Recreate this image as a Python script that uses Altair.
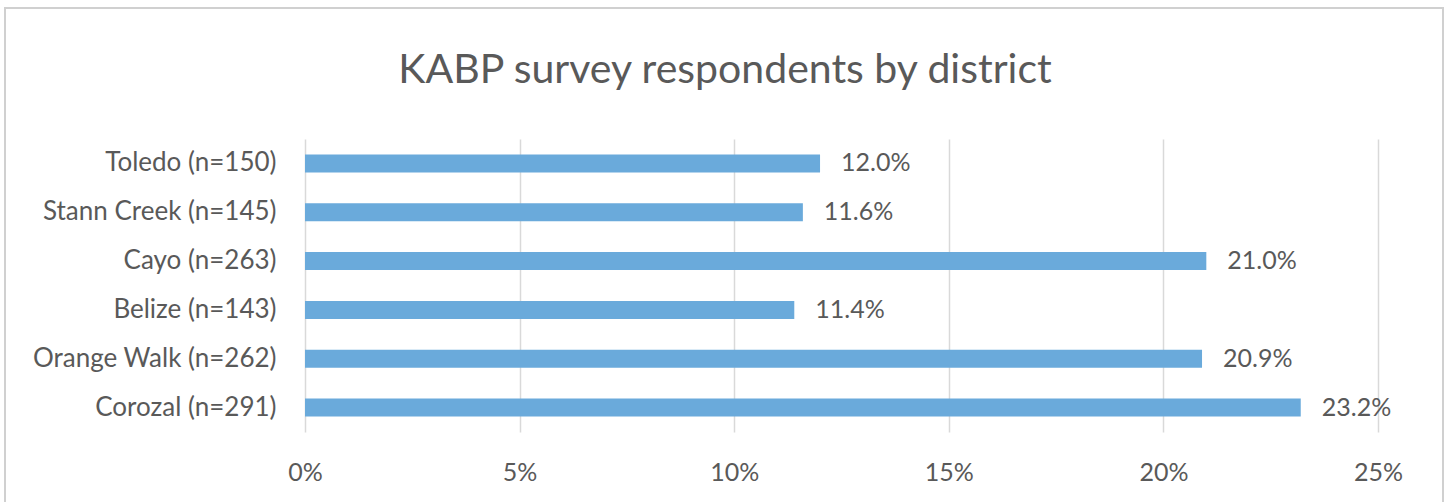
import altair as alt
import pandas as pd

districts = ["Toledo (n=150)", "Stann Creek (n=145)", "Cayo (n=263)",
             "Belize (n=143)", "Orange Walk (n=262)", "Corozal (n=291)"]
shares = [0.120, 0.116, 0.210, 0.114, 0.209, 0.232]
x_ticks = [0, 0.05, 0.10, 0.15, 0.20, 0.25]
title_text = ["KABP survey respondents by district"]

df = pd.DataFrame({"district": districts, "share": shares})

FONT = "Lato"
TXT = "#595959"
FS = 26

y_enc = alt.Y("district:N", sort=districts, title=None,
              scale=alt.Scale(paddingInner=0.63, paddingOuter=0.315),
              axis=alt.Axis(labelFont=FONT, labelFontSize=FS, labelColor=TXT,
                            labelPadding=29, ticks=False, domain=False, grid=False,
                            labelLimit=400))
x_enc = alt.X("share:Q", title=None,
              scale=alt.Scale(domain=[0, 0.25], nice=False, zero=True),
              axis=alt.Axis(values=x_ticks, format=".0%", labelFont=FONT,
                            labelFontSize=FS - 1, labelColor=TXT, labelPadding=28,
                            labelFlush=False, ticks=False, domain=False, grid=True,
                            gridColor="#D9D9D9", gridWidth=1.5))

frame = alt.Chart(pd.DataFrame({"a": [0]})).mark_rect(
    fill=None, stroke="#D0D0D0", strokeWidth=2
).encode(x=alt.value(-300), x2=alt.value(1138), y=alt.value(-131), y2=alt.value(420))

title = alt.Chart(pd.DataFrame({"t": title_text})).mark_text(
    align="center", baseline="alphabetic", font=FONT, fontSize=41, color=TXT
).encode(x=alt.value(420), y=alt.value(-56), text="t:N")

bars = alt.Chart(df).mark_bar(color="#6AAADB").encode(x=x_enc, y=y_enc)

labels = alt.Chart(df).mark_text(
    align="left", baseline="middle", dx=21, font=FONT, fontSize=FS - 1, color=TXT
).encode(x="share:Q", y=alt.Y("district:N", sort=districts),
         text=alt.Text("share:Q", format=".1%"))

chart = alt.layer(frame, title, bars, labels).properties(
    width=1073, height=293,
    padding={"left": 305, "top": 139, "right": 70, "bottom": 70},
    autosize=alt.AutoSizeParams(type="none"),
).configure(background="white").configure_view(stroke="transparent", strokeWidth=0)

chart.save("out.html", embed_options={"renderer": "svg", "actions": False})
